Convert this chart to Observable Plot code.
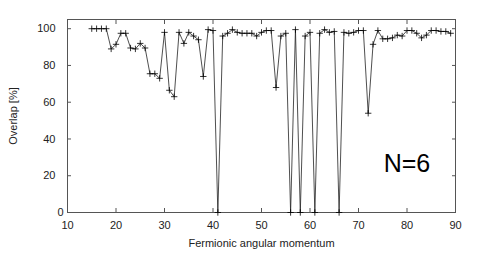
<!DOCTYPE html>
<html><head><meta charset="utf-8">
<script src="https://cdn.jsdelivr.net/npm/d3@7"></script>
<script src="https://cdn.jsdelivr.net/npm/@observablehq/plot@0.6"></script>
<style>body{margin:0;background:#fff}</style>
</head><body><div id="chart"></div>
<script>
const momentum = [15,16,17,18,19,20,21,22,23,24,25,26,27,28,29,30,31,32,33,34,35,36,37,38,39,40,41,42,43,44,45,46,47,48,49,50,51,52,53,54,55,56,57,58,59,60,61,62,63,64,65,66,67,68,69,70,71,72,73,74,75,76,77,78,79,80,81,82,83,84,85,86,87,88,89];
const overlap = [100,100,100,100,89,91.5,97.5,97.5,89.5,89,92,89.5,75.5,75.5,73,98,66.5,63,98,92,98,96,94,74,99.5,99,0,96,97.5,99.5,98,97.5,97.5,97.5,96,98,99,99,68,96,97.5,0,99.5,0,96,98,0,97.5,99.5,98,98.5,0,98,97.5,98,99,99,54,91.5,99,94.5,94.5,95,96.5,96,99,99,97.5,95,96.5,99,99,98.5,98.5,97.5];
const xTicks = [10,20,30,40,50,60,70,80,90];
const yTicks = [0,20,40,60,80,100];
const xLabel = "Fermionic angular momentum";
const yLabel = "Overlap [%]";
const annotation = "N=6";
const annotationX = 80, annotationY = 22;

const data = momentum.map((m, i) => ({m, o: overlap[i]}));
const font = "'Liberation Sans', Arial, Helvetica, sans-serif";
const chart = Plot.plot({
  width: 480, height: 253,
  marginLeft: 67, marginRight: 25, marginTop: 19, marginBottom: 41,
  style: {fontFamily: font, fontSize: "11px", color: "#222", background: "#fff"},
  x: {domain: [10, 90]},
  y: {domain: [0, 105]},
  marks: [
    Plot.frame({stroke: "#555"}),
    Plot.axisX(xTicks, {anchor: "bottom", tickSize: -4, tickPadding: 13, stroke: "#555", label: xLabel, labelAnchor: "center", labelArrow: "none", labelOffset: 34}),
    Plot.axisX(xTicks, {anchor: "top", tickSize: -4, tickFormat: () => "", label: null, stroke: "#555"}),
    Plot.axisY(yTicks.filter(t => t > 0), {anchor: "left", tickSize: -4, tickPadding: 16, stroke: "#555", label: yLabel, labelAnchor: "center", labelArrow: "none", labelOffset: 58}),
    Plot.axisY(yTicks.filter(t => t === 0), {anchor: "left", tickSize: -4, tickPadding: 8, stroke: "#555", label: null}),
    Plot.axisY(yTicks, {anchor: "right", tickSize: -4, tickFormat: () => "", label: null, stroke: "#555"}),
    Plot.line(data, {x: "m", y: "o", stroke: "#222", strokeWidth: 0.8}),
    Plot.dot(data, {x: "m", y: "o", symbol: "plus", r: 2.2, stroke: "#000", strokeWidth: 0.8}),
    Plot.text([annotation], {x: annotationX, y: annotationY, text: d => d, fontSize: 25, textAnchor: "middle", lineAnchor: "bottom", fill: "#000"})
  ]
});
document.getElementById("chart").appendChild(chart);
</script>
</body></html>
